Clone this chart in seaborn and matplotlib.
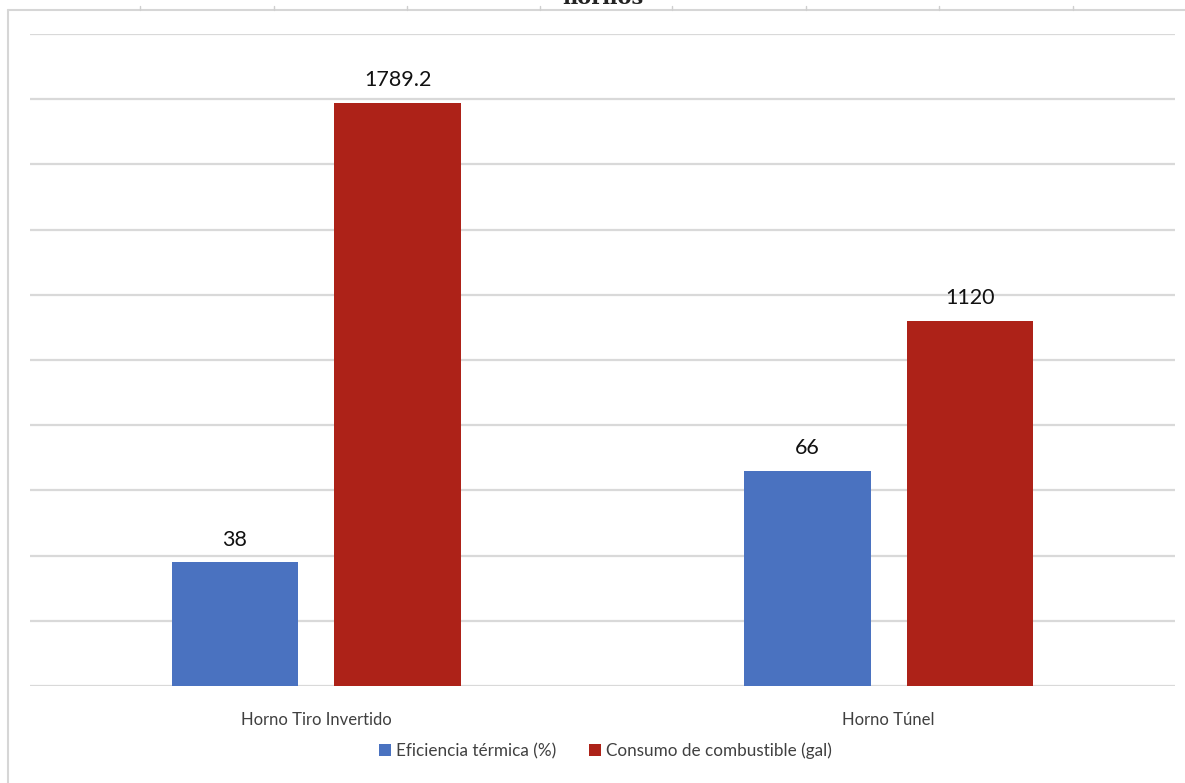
import matplotlib
matplotlib.use("Agg")
import matplotlib.pyplot as plt
from matplotlib.patches import Patch
from matplotlib.lines import Line2D
import seaborn as sns
import pandas as pd

# Data
hornos = ["Horno Tiro Invertido", "Horno Túnel"]
series = ["Eficiencia térmica (%)", "Consumo de combustible (gal)"]
eficiencia = [38, 66]
consumo = [1789.2, 1120]

colors = {"Eficiencia térmica (%)": "#4A72C0", "Consumo de combustible (gal)": "#AD2218"}

df = pd.DataFrame({
    "horno": hornos * 2,
    "serie": [series[0]] * 2 + [series[1]] * 2,
    "valor": eficiencia + consumo,
})

sns.set_theme(style="white")
plt.rcParams["font.family"] = ["Lato", "DejaVu Sans"]

fig = plt.figure(figsize=(11.85, 7.83), dpi=100)
ax = fig.add_axes([30 / 1185, 1 - 686 / 783, 1145 / 1185, (686 - 34) / 783])
ax2 = ax.twinx()

bar_kw = dict(x="horno", y="valor", hue="serie", hue_order=series, dodge=True,
              order=hornos, palette=colors, width=0.568, gap=0.22,
              legend=False, saturation=1, linewidth=0)

# Fuel consumption on the primary axis
sns.barplot(data=df[df["serie"] == series[1]], ax=ax, **bar_kw)
# Thermal efficiency on the secondary axis
sns.barplot(data=df[df["serie"] == series[0]], ax=ax2, **bar_kw)

ax.set_ylim(0, 2000)
ax2.set_ylim(0, 200)
ax.set_xlim(-0.5, 1.5)
ax.set_yticks(range(0, 2001, 200))
ax2.set_yticks([])
ax.yaxis.grid(True, color="#D9D9D9", linewidth=1.6)
ax.set_axisbelow(True)
ax.tick_params(axis="y", left=False, labelleft=False)
ax.tick_params(axis="x", bottom=False, labelsize=12, colors="#404040", pad=13)
ax.set_xlabel("")
ax.set_ylabel("")
ax2.set_ylabel("")
for a in (ax, ax2):
    for s in a.spines.values():
        s.set_visible(False)
    a.patch.set_visible(False)

# Value labels
for a in (ax, ax2):
    for cont in a.containers:
        a.bar_label(cont, fmt="%g", padding=9, fontsize=15.5, color="#111111")

# Legend
handles = [Patch(facecolor=colors[s], edgecolor="none", label=s) for s in series]
fig.legend(handles=handles, loc="center", bbox_to_anchor=(0.511, 1 - 751 / 783),
           ncol=2, frameon=False, fontsize=12.3, handlelength=0.7, handleheight=0.7,
           handletextpad=0.3, columnspacing=1.9, labelcolor="#404040")

# Title line (top clipped by the page edge)
fig.text(0.509, 1 - 4 / 783, "hornos", ha="center", va="baseline",
         fontsize=15, fontweight="bold", family="DejaVu Serif", color="#222222")

# Chart frame with ruler marks
fig.add_artist(Line2D([8 / 1185, 1], [1 - 10 / 783, 1 - 10 / 783], transform=fig.transFigure,
                      color="#D6D6D6", linewidth=1.5))
fig.add_artist(Line2D([8 / 1185, 8 / 1185], [0, 1 - 10 / 783], transform=fig.transFigure,
                      color="#D6D6D6", linewidth=1.5))
for px in [140, 274, 407, 540, 672, 806, 939, 1073]:
    fig.add_artist(Line2D([px / 1185, px / 1185], [1 - 10 / 783, 1 - 6 / 783],
                          transform=fig.transFigure, color="#CFCFCF", linewidth=1))

fig.savefig("out.png", dpi=100)
